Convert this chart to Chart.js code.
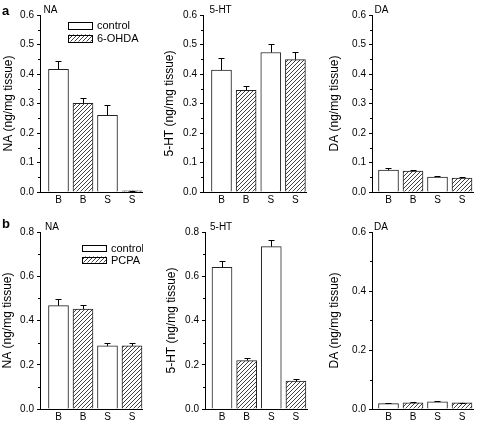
<!DOCTYPE html>
<html><head><meta charset="utf-8">
<script src="https://cdn.jsdelivr.net/npm/chart.js@4.4.1/dist/chart.umd.min.js"></script>
<style>
html,body{margin:0;padding:0;background:#fff;}
#wrap{position:relative;width:481px;height:424px;overflow:hidden;background:#fff;}
canvas{position:absolute;}
</style></head><body><div id="wrap"></div>
<script>
// ---------- data ----------
const categories = ['B', 'B', 'S', 'S'];
const categoryPositions = [1, 2, 3, 4];
const legendA = ['control', '6-OHDA'];
const legendB = ['control', 'PCPA'];
const panelLetters = ['a', 'b'];
const panelTitles = ['NA', '5-HT', 'DA'];
const axisTitles = ['NA (ng/mg tissue)', '5-HT (ng/mg tissue)', 'DA (ng/mg tissue)'];

// row a (6-OHDA)
const naA_mean = [0.416, 0.301, 0.260, 0.004];
const naA_sem  = [0.029, 0.017, 0.034, 0.001];
const htA_mean = [0.413, 0.345, 0.473, 0.449];
const htA_sem  = [0.040, 0.014, 0.029, 0.025];
const daA_mean = [0.074, 0.071, 0.051, 0.047];
const daA_sem  = [0.007, 0.005, 0.003, 0.004];
// row b (PCPA)
const naB_mean = [0.467, 0.452, 0.285, 0.285];
const naB_sem  = [0.028, 0.016, 0.014, 0.015];
const htB_mean = [0.640, 0.219, 0.734, 0.126];
const htB_sem  = [0.030, 0.012, 0.030, 0.009];
const daB_mean = [0.018, 0.021, 0.024, 0.021];
const daB_sem  = [0.002, 0.003, 0.002, 0.001];

const yMaxA = [0.6, 0.6, 0.6];
const yMajorA = [0.1, 0.1, 0.1];
const yMinorA = [0.05, 0.05, 0.05];
const yMaxB = [0.8, 0.8, 0.6];
const yMajorB = [0.2, 0.2, 0.2];
const yMinorB = [0.1, 0.1, 0.1];

// ---------- layout ----------
const layouts = [
  {row:0,col:0,left:0,  top:0,  width:143,height:210,axisW:40,padTop:15,xAxisH:18,xMin:0.245,xMax:4.45,titleOff:1.1,titleDx:3.5,legend:{dx:28,dy:6.5,h:7,gap:13}},
  {row:0,col:1,left:160,top:0,  width:147,height:210,axisW:43,padTop:15,xAxisH:18,xMin:0.25, xMax:4.47,titleOff:2.8,titleDx:6.5},
  {row:0,col:2,left:320,top:0,  width:154,height:210,axisW:52,padTop:15,xAxisH:18,xMin:0.327,xMax:4.49,titleOff:7.8,titleDx:2.5},
  {row:1,col:0,left:0,  top:210,width:143,height:214,axisW:40,padTop:22,xAxisH:15,xMin:0.245,xMax:4.45,titleOff:0.8,titleDx:5,legend:{dx:42,dy:12.5,h:6,gap:12}},
  {row:1,col:1,left:160,top:210,width:148,height:214,axisW:45,padTop:22,xAxisH:15,xMin:0.31, xMax:4.49,titleOff:4.5,titleDx:5},
  {row:1,col:2,left:320,top:210,width:154,height:214,axisW:52,padTop:22,xAxisH:15,xMin:0.327,xMax:4.49,titleOff:7.8,titleDx:2}
];
const series = [
  [[naA_mean, naA_sem], [htA_mean, htA_sem], [daA_mean, daA_sem]],
  [[naB_mean, naB_sem], [htB_mean, htB_sem], [daB_mean, daB_sem]]
];
const FONT = "'Liberation Sans', Arial, sans-serif";

function makeHatch(ctx) {
  const s = 4, c = document.createElement('canvas');
  c.width = s; c.height = s;
  const g = c.getContext('2d');
  g.fillStyle = '#fff'; g.fillRect(0, 0, s, s);
  g.strokeStyle = '#2a2a2a'; g.lineWidth = 0.9;
  g.beginPath();
  g.moveTo(0, s); g.lineTo(s, 0);
  g.moveTo(-1, 1); g.lineTo(1, -1);
  g.moveTo(s - 1, s + 1); g.lineTo(s + 1, s - 1);
  g.stroke();
  return ctx.createPattern(c, 'repeat');
}

const extrasPlugin = {
  id: 'extras',
  afterDatasetsDraw(chart, args, opts) {
    const ctx = chart.ctx, ys = chart.scales.y;
    ctx.save();
    ctx.strokeStyle = '#000'; ctx.lineWidth = 1;
    chart.data.datasets.forEach((ds, di) => {
      const meta = chart.getDatasetMeta(di);
      meta.data.forEach((el, i) => {
        const d = ds.data[i];
        const xTop = Math.round(el.x) + 0.5;
        const yTop = Math.round(ys.getPixelForValue(d.y + d.err)) + 0.5;
        const yBar = el.y;
        ctx.beginPath();
        ctx.moveTo(xTop, yBar); ctx.lineTo(xTop, yTop);
        ctx.moveTo(xTop - 3, yTop); ctx.lineTo(xTop + 3, yTop);
        ctx.stroke();
      });
    });
    ctx.restore();
  },
  afterDraw(chart, args, opts) {
    const ctx = chart.ctx, ys = chart.scales.y, ca = chart.chartArea;
    ctx.save();
    // minor ticks
    ctx.strokeStyle = '#000'; ctx.lineWidth = 1;
    const n = Math.round(opts.yMax / opts.minor);
    const ratio = Math.round(opts.major / opts.minor);
    ctx.beginPath();
    for (let k = 0; k <= n; k++) {
      if (k % ratio === 0) continue;
      const y = Math.round(ys.getPixelForValue(k * opts.minor)) + 0.5;
      ctx.moveTo(ca.left - 2, y); ctx.lineTo(ca.left, y);
    }
    ctx.stroke();
    // panel title
    ctx.fillStyle = '#000';
    ctx.font = '10px ' + FONT;
    ctx.textBaseline = 'alphabetic'; ctx.textAlign = 'left';
    ctx.fillText(opts.title, ca.left + opts.titleDx, ca.top - 2);
    // panel letter
    if (opts.letter) {
      ctx.font = 'bold 13px ' + FONT;
      ctx.fillText(opts.letter, 2, opts.letterY);
    }
    // legend
    if (opts.legend) {
      const L = opts.legend;
      chart.data.datasets.forEach((ds, di) => {
        const x = ca.left + L.dx, y = ca.top + L.dy + di * L.gap;
        ctx.fillStyle = ds.backgroundColor;
        ctx.fillRect(x, y, 24, L.h);
        ctx.strokeStyle = '#000'; ctx.lineWidth = 1;
        ctx.strokeRect(Math.round(x) + 0.5, Math.round(y) + 0.5, 24, L.h);
        ctx.fillStyle = '#000';
        ctx.font = '11px ' + FONT;
        ctx.textBaseline = 'middle';
        ctx.fillText(ds.label, x + 29, y + L.h / 2 + 1);
      });
    }
    ctx.restore();
  }
};

const wrap = document.getElementById('wrap');
layouts.forEach(L => {
  const cv = document.createElement('canvas');
  cv.width = L.width; cv.height = L.height;
  cv.style.left = L.left + 'px'; cv.style.top = L.top + 'px';
  cv.style.width = L.width + 'px'; cv.style.height = L.height + 'px';
  wrap.appendChild(cv);
  const ctx = cv.getContext('2d');
  const hatch = makeHatch(ctx);
  const [mean, sem] = series[L.row][L.col];
  const yMax = (L.row === 0 ? yMaxA : yMaxB)[L.col];
  const major = (L.row === 0 ? yMajorA : yMajorB)[L.col];
  const minor = (L.row === 0 ? yMinorA : yMinorB)[L.col];
  const legendNames = L.row === 0 ? legendA : legendB;
  const pts = categoryPositions.map((x, i) => ({x: x, y: mean[i], err: sem[i]}));
  new Chart(ctx, {
    type: 'bar',
    data: {
      datasets: [
        {label: legendNames[0], data: pts.filter((p, i) => i % 2 === 0), backgroundColor: '#ffffff', borderColor: '#222', borderWidth: 1, barThickness: 20, grouped: false},
        {label: legendNames[1], data: pts.filter((p, i) => i % 2 === 1), backgroundColor: hatch, borderColor: '#222', borderWidth: 1, barThickness: 20, grouped: false}
      ]
    },
    options: {
      responsive: false, animation: false, devicePixelRatio: 1,
      layout: {padding: {left: 0, right: 0, top: L.padTop, bottom: 0}},
      plugins: {
        legend: {display: false}, tooltip: {enabled: false},
        extras: {yMax: yMax, major: major, minor: minor, title: panelTitles[L.col], titleDx: L.titleDx,
                 letter: L.col === 0 ? panelLetters[L.row] : null, letterY: L.row === 0 ? 15 : 18,
                 legend: L.legend || null}
      },
      scales: {
        x: {
          type: 'linear', min: L.xMin, max: L.xMax, offset: false,
          afterBuildTicks: s => { s.ticks = categoryPositions.map(v => ({value: v})); },
          afterFit: s => { s.height = L.xAxisH; },
          grid: {display: true, drawOnChartArea: false, drawTicks: false, offset: false},
          border: {display: true, color: '#000', width: 1},
          ticks: {
            padding: 2.5, color: '#000', font: {family: FONT, size: 10}, maxRotation: 0, autoSkip: false,
            callback: v => categories[categoryPositions.indexOf(v)]
          }
        },
        y: {
          min: 0, max: yMax,
          afterFit: s => { s.width = L.axisW; },
          grid: {display: true, drawOnChartArea: false, drawTicks: true, tickLength: 3, tickColor: '#000', color: '#000'},
          border: {display: true, color: '#000', width: 1},
          ticks: {stepSize: major, padding: 3, color: '#000', font: {family: FONT, size: 10},
                  callback: v => v.toFixed(1)},
          title: {display: true, text: axisTitles[L.col], color: '#000', font: {family: FONT, size: 12},
                  padding: {top: L.titleOff, bottom: 0}}
        }
      }
    },
    plugins: [extrasPlugin]
  });
});
</script></body></html>
